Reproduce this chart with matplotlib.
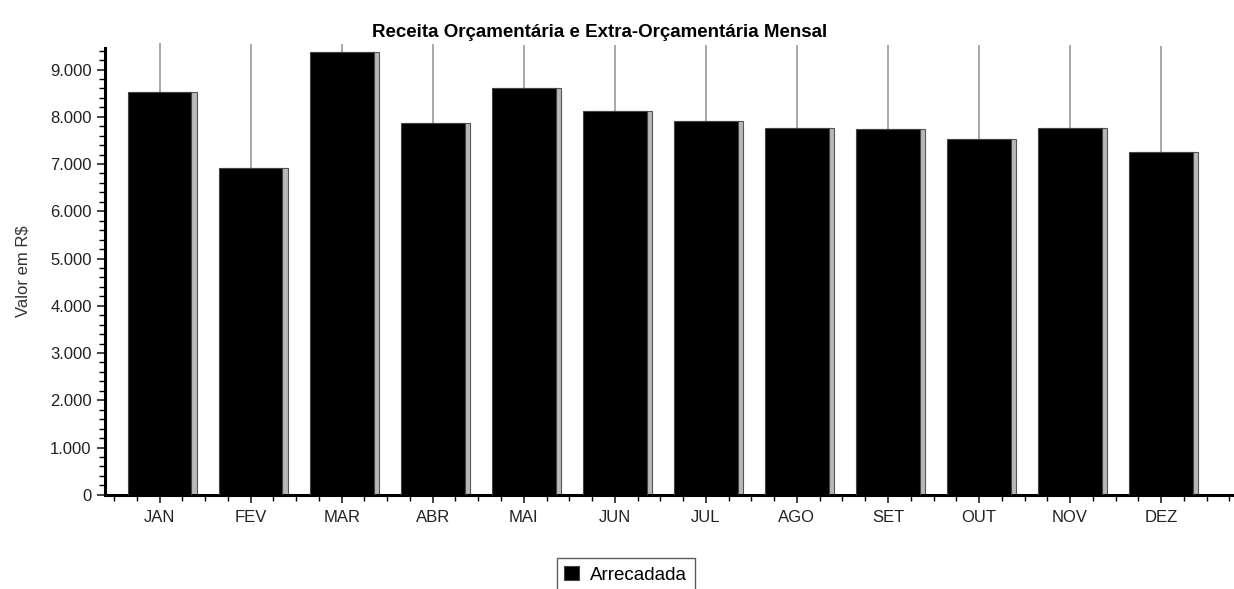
import matplotlib
matplotlib.use("Agg")
import matplotlib.pyplot as plt
import numpy as np
from matplotlib.ticker import MultipleLocator, FuncFormatter

plt.rcParams['font.family'] = ['Liberation Sans', 'DejaVu Sans']

months = ["JAN", "FEV", "MAR", "ABR", "MAI", "JUN", "JUL", "AGO", "SET", "OUT", "NOV", "DEZ"]
arrecadada = [8520, 6920, 9370, 7860, 8610, 8120, 7920, 7770, 7750, 7520, 7770, 7260]
line_top = [9570, 9550, 9540, 9545, 9530, 9510, 9510, 9525, 9510, 9510, 9520, 9500]

fig = plt.figure(figsize=(12.34, 5.89), dpi=100)
ax = fig.add_axes([0.085, 0.16, 0.915, 0.758])

x = np.arange(len(months))
width = 0.70
dx = 0.06
dy = 85

# grey vertical lines above bars
ax.vlines(x, arrecadada, line_top, color="#a8a8a8", lw=1.4, zorder=1, clip_on=False)
# 3D depth (side/top faces)
ax.bar(x + dx, np.array(arrecadada) + dy, width=width, bottom=-dy,
       color="#b8b8b8", edgecolor="#555555", lw=0.8, zorder=2)
# front face
ax.bar(x, arrecadada, width=width, color="black", edgecolor="#444444", lw=0.8, zorder=3,
       label="Arrecadada")

ax.set_xlim(-0.6, 11.8)
ax.set_ylim(0, 9450)
ax.spines['top'].set_visible(False)
ax.spines['right'].set_visible(False)
ax.spines['left'].set_linewidth(2.2)
ax.spines['bottom'].set_linewidth(2.2)

ax.yaxis.set_major_locator(MultipleLocator(1000))
ax.yaxis.set_minor_locator(MultipleLocator(200))
ax.yaxis.set_major_formatter(FuncFormatter(lambda v, p: f"{int(v):,}".replace(",", ".")))
ax.set_xticks(x)
ax.set_xticklabels(months)
ax.xaxis.set_minor_locator(MultipleLocator(0.25))
ax.tick_params(axis='both', which='major', length=6, width=1.2, labelsize=12, colors="#222222")
ax.tick_params(axis='both', which='minor', length=4, width=1.0)
ax.tick_params(axis='x', which='major', pad=5)

ax.set_ylabel("Valor em R$", fontsize=12, color="#333333", labelpad=14)
ax.set_title("Receita Orçamentária e Extra-Orçamentária Mensal", fontsize=13.5,
             fontweight='bold', pad=8, x=0.438)

leg = fig.legend(loc="upper center", bbox_to_anchor=(0.507, 0.068), frameon=True,
                 fancybox=False, edgecolor="#333333", fontsize=13.5,
                 handlelength=0.8, handleheight=0.8, borderpad=0.4, handletextpad=0.6)
leg.get_frame().set_linewidth(1.0)

fig.savefig("out.png", dpi=100)
